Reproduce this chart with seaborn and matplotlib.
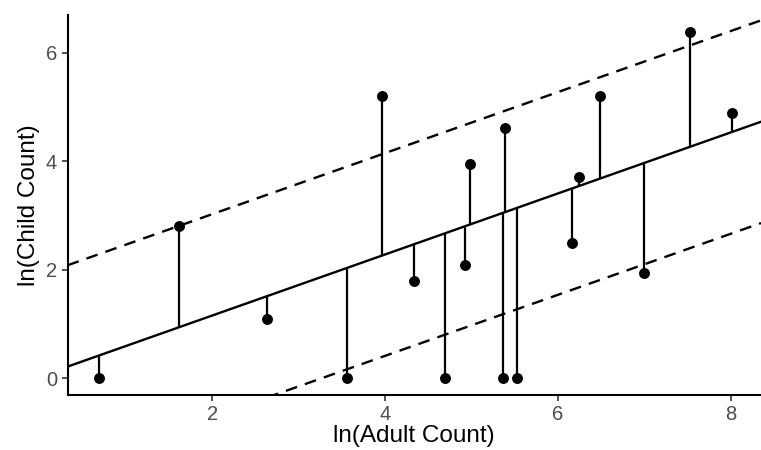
import numpy as np
import pandas as pd
import matplotlib
matplotlib.use("Agg")
import matplotlib.pyplot as plt
import seaborn as sns

# log counts per site
ln_adult = [0.69, 1.62, 2.64, 3.56, 3.97, 4.33, 4.70, 4.93, 4.98,
            5.37, 5.39, 5.53, 6.16, 6.25, 6.49, 7.00, 7.53, 8.01]
ln_child = [0.00, 2.80, 1.10, 0.00, 5.21, 1.79, 0.00, 2.08, 3.95,
            0.00, 4.61, 0.00, 2.49, 3.71, 5.21, 1.95, 6.39, 4.89]

# fitted line and prediction band half-width
fit_intercept = 0.030
fit_slope = 0.563
band_halfwidth = 1.87

x_ticks = [2, 4, 6, 8]
y_ticks = [0, 2, 4, 6]

df = pd.DataFrame({"ln_adult": ln_adult, "ln_child": ln_child})
df["fitted"] = fit_intercept + fit_slope * df["ln_adult"]

sns.set_theme(style="ticks")
plt.rcParams["font.family"] = ["Liberation Sans", "DejaVu Sans"]

fig = plt.figure(figsize=(7.61, 4.50), dpi=100)
ax = fig.add_axes([0.0887, 0.1222, 0.9113, 0.8444])

xlim = (0.326, 8.351)
ylim = (-0.31, 6.70)

# residual segments from each point to the fitted line
ax.vlines(df["ln_adult"], df["ln_child"], df["fitted"],
          color="black", linewidth=1.6, zorder=2)

# fitted line and dashed band
line_x = np.array(xlim)
lines = pd.DataFrame({
    "x": np.tile(line_x, 3),
    "y": np.concatenate([
        fit_intercept + fit_slope * line_x,
        fit_intercept + band_halfwidth + fit_slope * line_x,
        fit_intercept - band_halfwidth + fit_slope * line_x,
    ]),
    "kind": ["fit"] * 2 + ["upper"] * 2 + ["lower"] * 2,
})
sns.lineplot(data=lines[lines["kind"] == "fit"], x="x", y="y", ax=ax,
             color="black", linewidth=1.7, zorder=3)
for k in ["upper", "lower"]:
    sns.lineplot(data=lines[lines["kind"] == k], x="x", y="y", ax=ax,
                 color="black", linewidth=1.7, zorder=3,
                 dashes=False).lines[-1].set_dashes((5, 3.5))

sns.scatterplot(data=df, x="ln_adult", y="ln_child", ax=ax,
                color="black", s=62, edgecolor="black", linewidth=0,
                zorder=4)

ax.set_xlim(*xlim)
ax.set_ylim(*ylim)
ax.set_xticks(x_ticks)
ax.set_yticks(y_ticks)

for side in ["top", "right"]:
    ax.spines[side].set_visible(False)
for side in ["left", "bottom"]:
    ax.spines[side].set_color("black")
    ax.spines[side].set_linewidth(1.5)

ax.tick_params(axis="both", length=4.5, width=1.2, color="#333333",
               labelcolor="#4d4d4d", labelsize=14.5)
ax.tick_params(axis="x", pad=2.5)
ax.tick_params(axis="y", pad=3)

ax.set_xlabel("ln(Adult Count)", fontsize=17.5, color="black", labelpad=1)
ax.set_ylabel("ln(Child Count)", fontsize=17.5, color="black", labelpad=4)

fig.savefig("out.png", dpi=100)
